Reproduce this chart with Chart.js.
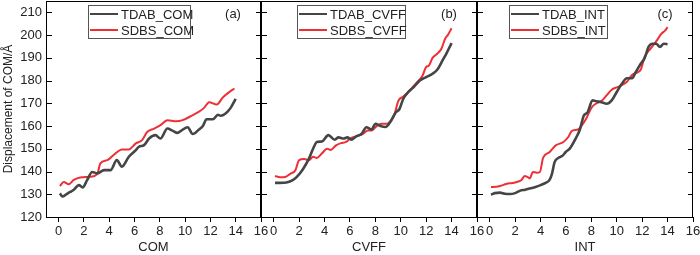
<!DOCTYPE html>
<html lang="en">
<head>
<meta charset="UTF-8">
<title>Displacement of COM</title>
<script src="https://cdn.jsdelivr.net/npm/chart.js"></script>
<style>
  body { margin: 0; background: #fff; }
  #wrap { position: relative; width: 700px; height: 255px; overflow: hidden; }
  .panel { position: absolute; top: 0; height: 255px; }
</style>
</head>
<body>
<div id="wrap">
  <div class="panel" style="left:0;width:280px"><canvas id="chartCOM"></canvas></div>
  <div class="panel" style="left:245px;width:247px"><canvas id="chartCVFF"></canvas></div>
  <div class="panel" style="left:462px;width:238px"><canvas id="chartINT"></canvas></div>
</div>
<script>
// --- data ---
const xTicks = [0, 2, 4, 6, 8, 10, 12, 14, 16];
const yTicks = [120, 130, 140, 150, 160, 170, 180, 190, 200, 210];

const comTdabX = [0.1,0.3,0.6,0.9,1.2,1.6,1.9,2.25,2.65,3.05,3.3,3.6,4.1,4.6,5.0,5.55,6.1,6.35,6.75,7.15,7.65,8.05,8.6,9.0,9.4,9.7,10.2,10.6,11.1,11.4,11.7,12.2,12.6,12.8,13.2,13.6,14.0];
const comTdabY = [130.4,129.0,130.0,131.0,132.0,134.0,133.0,136.2,139.8,139.2,139.8,140.6,140.6,145.0,142.1,146.5,149.4,150.9,151.6,154.5,156.0,154.5,158.9,158.0,157.0,158.0,159.5,156.5,158.5,160.0,163.0,163.0,165.0,164.5,165.5,168.0,172.0];
const comSdbsX = [0.1,0.4,0.8,1.2,1.7,2.5,3.05,3.3,3.85,4.5,5.0,5.55,6.1,6.6,7.0,7.55,8.05,8.6,9.3,9.8,10.4,11.0,11.5,11.9,12.5,13.0,13.5,13.9];
const comSdbsY = [133.6,135.4,134.4,136.3,137.4,137.7,138.9,143.6,145.0,148.0,149.7,149.7,152.4,153.8,157.4,158.9,160.4,162.6,162.1,162.6,164.2,166.0,168.0,170.5,169.5,172.7,175.0,176.5];

const cvffTdabX = [0.1,0.5,1.0,1.5,1.8,2.3,2.8,3.1,3.4,3.8,4.3,4.8,5.1,5.5,5.8,6.1,6.5,6.9,7.3,7.7,8.0,8.4,8.8,9.2,9.6,9.9,10.2,10.6,11.0,11.5,12.0,12.5,12.9,13.3,13.6,14.0];
const cvffTdabY = [135.0,135.0,135.2,136.2,137.5,141.0,146.0,150.0,153.0,153.2,156.0,154.0,155.0,154.5,155.0,154.0,155.5,156.5,159.5,158.5,161.0,160.0,159.6,162.0,166.0,167.5,172.0,175.0,177.0,180.0,181.5,183.0,185.0,189.0,192.0,196.5];
const cvffSdbsX = [0.1,0.5,0.9,1.3,1.7,2.0,2.4,2.8,3.1,3.4,3.8,4.2,4.5,4.9,5.3,5.7,6.0,6.5,7.0,7.4,7.7,8.1,8.5,8.9,9.3,9.5,9.8,10.2,10.6,11.0,11.4,11.7,12.0,12.2,12.5,12.8,13.2,13.5,13.7,14.0];
const cvffSdbsY = [138.0,137.5,137.6,139.0,140.5,145.0,145.5,145.0,146.5,146.0,148.0,150.0,149.5,151.5,152.5,153.0,154.5,155.5,156.5,158.0,158.0,160.0,161.0,161.0,163.0,165.0,171.0,173.0,175.0,177.5,180.0,182.0,186.0,186.5,190.0,191.5,194.0,198.5,200.0,203.0];

const intTdabX = [0.1,0.4,0.8,1.2,1.6,2.0,2.4,2.8,3.2,3.6,4.0,4.4,4.7,4.9,5.1,5.4,5.7,6.0,6.3,6.7,7.1,7.4,7.7,8.1,8.4,8.8,9.2,9.6,10.0,10.4,10.8,11.2,11.5,11.9,12.2,12.5,12.8,13.1,13.4,13.7,14.0];
const intTdabY = [129.8,130.5,130.7,130.2,130.1,130.5,131.6,132.0,132.6,133.2,134.0,135.0,136.2,139.0,144.0,146.0,146.8,148.7,150.1,153.8,158.5,164.5,166.0,171.3,170.9,170.5,169.8,171.3,175.0,178.6,181.0,181.0,183.8,187.5,190.0,194.8,196.2,196.2,194.8,196.2,196.0];
const intSdbsX = [0.1,0.5,0.9,1.3,1.8,2.2,2.5,2.75,3.0,3.15,3.4,3.7,3.95,4.2,4.7,5.2,5.8,6.2,6.45,6.95,7.25,7.6,8.0,8.4,8.8,9.2,9.6,10.0,10.4,10.8,11.2,11.6,11.9,12.2,12.5,12.8,13.2,13.5,13.8,14.0];
const intSdbsY = [133.2,133.3,133.8,134.5,135.0,135.5,136.3,138.0,137.5,137.0,139.8,139.5,139.8,146.0,148.5,151.5,153.0,155.3,157.8,158.5,160.3,163.3,168.0,170.0,171.0,173.5,176.0,177.0,178.0,179.5,182.5,183.5,185.0,190.5,193.0,195.0,198.0,200.5,202.0,203.5];

const FONT = '"Liberation Sans", Arial, sans-serif';
const DARK = '#454545';
const RED = '#ee2f36';

const toPoints = (xs, ys) => xs.map((x, i) => ({ x: x, y: ys[i] }));

// frame, inward y ticks, legend box and panel letter
const framePlugin = {
  id: 'frame',
  afterDraw(chart, args, opts) {
    const { ctx, chartArea: a, scales } = chart;
    ctx.save();
    ctx.strokeStyle = '#000';
    ctx.lineWidth = 1;
    ctx.strokeRect(a.left + 0.5, a.top + 0.5, a.right - a.left - 1, a.bottom - a.top);
    ctx.beginPath();
    yTicks.forEach(v => {
      const y = Math.round(scales.y.getPixelForValue(v)) + 0.5;
      ctx.moveTo(a.left, y); ctx.lineTo(a.left + 6, y);
      ctx.moveTo(a.right, y); ctx.lineTo(a.right - 5, y);
    });
    ctx.stroke();

    // legend
    const bx = a.left + opts.legendX, by = 5, bw = opts.legendW, bh = 33;
    ctx.fillStyle = '#fff';
    ctx.fillRect(bx, by, bw, bh);
    ctx.strokeStyle = '#555';
    ctx.strokeRect(bx + 0.5, by + 0.5, bw, bh);
    ctx.font = '13px ' + FONT;
    ctx.textBaseline = 'middle';
    chart.data.datasets.forEach((ds, i) => {
      const ry = by + 9 + i * 16;
      ctx.strokeStyle = ds.borderColor;
      ctx.lineWidth = 2;
      ctx.beginPath();
      ctx.moveTo(bx + 2, ry); ctx.lineTo(bx + 30, ry);
      ctx.stroke();
      ctx.fillStyle = '#222';
      ctx.textAlign = 'left';
      ctx.fillText(ds.label, bx + 33, ry + 1);
    });

    ctx.fillStyle = '#222';
    ctx.textAlign = 'center';
    ctx.fillText(opts.letter, a.right - 28, 14);
    ctx.restore();
  }
};

function makeChart(id, name, letter, tdab, sdbs, showY, pad, legendX, legendW) {
  const ctx = document.getElementById(id).getContext('2d');
  return new Chart(ctx, {
    type: 'line',
    data: {
      datasets: [
        { label: 'TDAB_' + name, data: tdab, borderColor: DARK, borderWidth: 2.6 },
        { label: 'SDBS_' + name, data: sdbs, borderColor: RED, borderWidth: 2 }
      ]
    },
    options: {
      responsive: true,
      maintainAspectRatio: false,
      animation: false,
      layout: { padding: pad },
      elements: { point: { radius: 0 }, line: { tension: 0.35, cubicInterpolationMode: 'monotone' } },
      plugins: {
        legend: { display: false },
        tooltip: { enabled: false },
        frame: { letter: letter, legendX: legendX, legendW: legendW }
      },
      scales: {
        x: {
          type: 'linear', min: -1, max: 16,
          afterBuildTicks: s => { s.ticks = xTicks.map(v => ({ value: v })); },
          afterFit: s => { s.height = 38; s.paddingLeft = 0; s.paddingRight = 0; },
          grid: { drawOnChartArea: false, drawTicks: true, tickLength: 5, tickColor: '#000', color: '#000' },
          border: { display: true, color: '#000' },
          ticks: { color: '#222', font: { family: FONT, size: 13 }, padding: 2, maxRotation: 0, autoSkip: false },
          title: { display: true, text: name, color: '#222', font: { family: FONT, size: 13 }, padding: { top: 0, bottom: 0 } }
        },
        y: {
          type: 'linear', min: 120, max: 215, display: showY,
          afterBuildTicks: s => { s.ticks = yTicks.map(v => ({ value: v })); },
          afterFit: s => { s.width = showY ? 46 : 0; s.paddingTop = 0; s.paddingBottom = 0; },
          grid: { drawOnChartArea: false, drawTicks: false },
          border: { display: true, color: '#000' },
          ticks: { color: '#222', font: { family: FONT, size: 13 }, padding: 4 },
          title: { display: true, text: 'Displacement of COM/Å', color: '#222', font: { family: FONT, size: 12 }, padding: { top: 1, bottom: 0 } }
        }
      }
    },
    plugins: [framePlugin]
  });
}

makeChart('chartCOM', 'COM', '(a)', toPoints(comTdabX, comTdabY), toPoints(comSdbsX, comSdbsY), true,
  { left: 0, right: 19, top: 1, bottom: 0 }, 42, 102);
makeChart('chartCVFF', 'CVFF', '(b)', toPoints(cvffTdabX, cvffTdabY), toPoints(cvffSdbsX, cvffSdbsY), false,
  { left: 16, right: 15, top: 1, bottom: 0 }, 36, 108);
makeChart('chartINT', 'INT', '(c)', toPoints(intTdabX, intTdabY), toPoints(intSdbsX, intSdbsY), false,
  { left: 15, right: 7, top: 1, bottom: 0 }, 32, 98);
</script>
</body>
</html>
